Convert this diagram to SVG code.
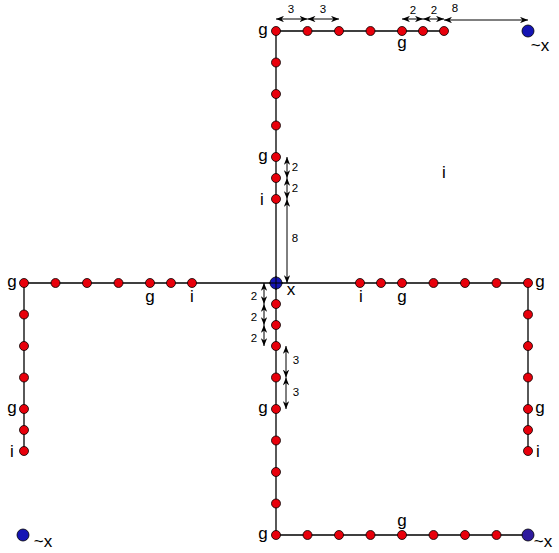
<svg xmlns="http://www.w3.org/2000/svg" width="559" height="553" viewBox="0 0 559 553">
<style>
.r{fill:#e8000b;stroke:#000;stroke-width:0.8}
.b{fill:#1414b4;stroke:#000;stroke-width:0.8}
.p{fill:#2e1a9e;stroke:#000;stroke-width:0.8}
.ln{stroke:#000;stroke-width:1.3;fill:none}
.dim{stroke:#000;stroke-width:1;fill:none;marker-start:url(#ah);marker-end:url(#ah)}
.t{font-family:"Liberation Sans",Arial,sans-serif;font-size:17px;fill:#000}
.n{font-family:"Liberation Sans",Arial,sans-serif;font-size:11.5px;fill:#000}
</style>
<defs>
<marker id="ah" viewBox="0 0 10 8" refX="10" refY="4" markerWidth="8" markerHeight="6.4" markerUnits="userSpaceOnUse" orient="auto-start-reverse">
<path d="M0,0 L10,4 L0,8 L3,4 Z" fill="#000"/>
</marker>
</defs>
<rect width="559" height="553" fill="#fff"/>
<g id="connectors">
<path class="ln" d="M276,283 V31 H444"/>
<path class="ln" d="M276,283 H24 V451"/>
<path class="ln" d="M276,283 H528 V451"/>
<path class="ln" d="M276,283 V535 H528"/>
</g>
<g id="dimensions">
<line class="dim" x1="276" y1="19" x2="307.5" y2="19"/>
<line class="dim" x1="307.5" y1="19" x2="339" y2="19"/>
<line class="dim" x1="402" y1="19" x2="423" y2="19"/>
<line class="dim" x1="423" y1="19" x2="444" y2="19"/>
<line class="dim" x1="444" y1="20" x2="528" y2="20"/>
<text class="n" x="291" y="13" text-anchor="middle">3</text>
<text class="n" x="323" y="13" text-anchor="middle">3</text>
<text class="n" x="413" y="14" text-anchor="middle">2</text>
<text class="n" x="434" y="14" text-anchor="middle">2</text>
<text class="n" x="455" y="12" text-anchor="middle">8</text>
<line class="dim" x1="287" y1="157" x2="287" y2="178"/>
<line class="dim" x1="287" y1="178" x2="287" y2="199"/>
<line class="dim" x1="287" y1="199" x2="287" y2="283"/>
<text class="n" x="295" y="171" text-anchor="middle">2</text>
<text class="n" x="295" y="192" text-anchor="middle">2</text>
<text class="n" x="295" y="242" text-anchor="middle">8</text>
<line class="dim" x1="264" y1="283" x2="264" y2="304"/>
<line class="dim" x1="264" y1="304" x2="264" y2="325"/>
<line class="dim" x1="264" y1="325" x2="264" y2="346"/>
<text class="n" x="254" y="300" text-anchor="middle">2</text>
<text class="n" x="254" y="321" text-anchor="middle">2</text>
<text class="n" x="254" y="342" text-anchor="middle">2</text>
<line class="dim" x1="286" y1="346" x2="286" y2="377.5"/>
<line class="dim" x1="286" y1="377.5" x2="286" y2="409"/>
<text class="n" x="296" y="364" text-anchor="middle">3</text>
<text class="n" x="296" y="396" text-anchor="middle">3</text>
</g>
<g id="free-label"><text class="t" x="444" y="178" text-anchor="middle">i</text></g>
<g id="n-tv0"><circle class="r" cx="276" cy="31" r="4.5"/><text class="t" x="263" y="35" text-anchor="middle">g</text></g>
<g id="n-tv1"><circle class="r" cx="276" cy="62.5" r="4.5"/></g>
<g id="n-tv2"><circle class="r" cx="276" cy="94" r="4.5"/></g>
<g id="n-tv3"><circle class="r" cx="276" cy="125.5" r="4.5"/></g>
<g id="n-tv4"><circle class="r" cx="276" cy="157" r="4.5"/><text class="t" x="263" y="161" text-anchor="middle">g</text></g>
<g id="n-tv5"><circle class="r" cx="276" cy="178" r="4.5"/></g>
<g id="n-tv6"><circle class="r" cx="276" cy="199" r="4.5"/><text class="t" x="262" y="205" text-anchor="middle">i</text></g>
<g id="n-th1"><circle class="r" cx="307.5" cy="31" r="4.5"/></g>
<g id="n-th2"><circle class="r" cx="339" cy="31" r="4.5"/></g>
<g id="n-th3"><circle class="r" cx="370.5" cy="31" r="4.5"/></g>
<g id="n-th4"><circle class="r" cx="402" cy="31" r="4.5"/><text class="t" x="402" y="48" text-anchor="middle">g</text></g>
<g id="n-th5"><circle class="r" cx="423" cy="31" r="4.5"/></g>
<g id="n-th6"><circle class="r" cx="444" cy="31" r="4.5"/></g>
<g id="n-tx"><circle class="b" cx="528" cy="31" r="6"/><text class="t" x="540" y="51" text-anchor="middle">~x</text></g>
<g id="n-center"><circle class="b" cx="276" cy="283" r="6"/><path d="M269,283 H283 M276,276 V290" stroke="#000" stroke-width="1"/><text class="t" x="291" y="295" text-anchor="middle">x</text></g>
<g id="n-lh0"><circle class="r" cx="24" cy="283" r="4.5"/><text class="t" x="12" y="287" text-anchor="middle">g</text></g>
<g id="n-lh1"><circle class="r" cx="55.5" cy="283" r="4.5"/></g>
<g id="n-lh2"><circle class="r" cx="87" cy="283" r="4.5"/></g>
<g id="n-lh3"><circle class="r" cx="118.5" cy="283" r="4.5"/></g>
<g id="n-lh4"><circle class="r" cx="150" cy="283" r="4.5"/><text class="t" x="150" y="302" text-anchor="middle">g</text></g>
<g id="n-lh5"><circle class="r" cx="171" cy="283" r="4.5"/></g>
<g id="n-lh6"><circle class="r" cx="192" cy="283" r="4.5"/><text class="t" x="192" y="302" text-anchor="middle">i</text></g>
<g id="n-lv1"><circle class="r" cx="24" cy="314.5" r="4.5"/></g>
<g id="n-lv2"><circle class="r" cx="24" cy="346" r="4.5"/></g>
<g id="n-lv3"><circle class="r" cx="24" cy="377.5" r="4.5"/></g>
<g id="n-lv4"><circle class="r" cx="24" cy="409" r="4.5"/><text class="t" x="12" y="413" text-anchor="middle">g</text></g>
<g id="n-lv5"><circle class="r" cx="24" cy="430" r="4.5"/></g>
<g id="n-lv6"><circle class="r" cx="24" cy="451" r="4.5"/><text class="t" x="12" y="457" text-anchor="middle">i</text></g>
<g id="n-lx"><circle class="b" cx="23" cy="535" r="6"/><text class="t" x="43" y="547" text-anchor="middle">~x</text></g>
<g id="n-rh1"><circle class="r" cx="360" cy="283" r="4.5"/><text class="t" x="361" y="302" text-anchor="middle">i</text></g>
<g id="n-rh2"><circle class="r" cx="381" cy="283" r="4.5"/></g>
<g id="n-rh3"><circle class="r" cx="402" cy="283" r="4.5"/><text class="t" x="402" y="302" text-anchor="middle">g</text></g>
<g id="n-rh4"><circle class="r" cx="433.5" cy="283" r="4.5"/></g>
<g id="n-rh5"><circle class="r" cx="465" cy="283" r="4.5"/></g>
<g id="n-rh6"><circle class="r" cx="496.5" cy="283" r="4.5"/></g>
<g id="n-rh7"><circle class="r" cx="528" cy="283" r="4.5"/><text class="t" x="540" y="287" text-anchor="middle">g</text></g>
<g id="n-rv1"><circle class="r" cx="528" cy="314.5" r="4.5"/></g>
<g id="n-rv2"><circle class="r" cx="528" cy="346" r="4.5"/></g>
<g id="n-rv3"><circle class="r" cx="528" cy="377.5" r="4.5"/></g>
<g id="n-rv4"><circle class="r" cx="528" cy="409" r="4.5"/><text class="t" x="540" y="413" text-anchor="middle">g</text></g>
<g id="n-rv5"><circle class="r" cx="528" cy="430" r="4.5"/></g>
<g id="n-rv6"><circle class="r" cx="528" cy="451" r="4.5"/><text class="t" x="538" y="457" text-anchor="middle">i</text></g>
<g id="n-bv1"><circle class="r" cx="276" cy="304" r="4.5"/></g>
<g id="n-bv2"><circle class="r" cx="276" cy="325" r="4.5"/></g>
<g id="n-bv3"><circle class="r" cx="276" cy="346" r="4.5"/></g>
<g id="n-bv4"><circle class="r" cx="276" cy="377.5" r="4.5"/></g>
<g id="n-bv5"><circle class="r" cx="276" cy="409" r="4.5"/><text class="t" x="263" y="413" text-anchor="middle">g</text></g>
<g id="n-bv6"><circle class="r" cx="276" cy="440.5" r="4.5"/></g>
<g id="n-bv7"><circle class="r" cx="276" cy="472" r="4.5"/></g>
<g id="n-bv8"><circle class="r" cx="276" cy="503.5" r="4.5"/></g>
<g id="n-bv9"><circle class="r" cx="276" cy="535" r="4.5"/><text class="t" x="263" y="539" text-anchor="middle">g</text></g>
<g id="n-bh1"><circle class="r" cx="307.5" cy="535" r="4.5"/></g>
<g id="n-bh2"><circle class="r" cx="339" cy="535" r="4.5"/></g>
<g id="n-bh3"><circle class="r" cx="370.5" cy="535" r="4.5"/></g>
<g id="n-bh4"><circle class="r" cx="402" cy="535" r="4.5"/><text class="t" x="402" y="526" text-anchor="middle">g</text></g>
<g id="n-bh5"><circle class="r" cx="433.5" cy="535" r="4.5"/></g>
<g id="n-bh6"><circle class="r" cx="465" cy="535" r="4.5"/></g>
<g id="n-bh7"><circle class="r" cx="496.5" cy="535" r="4.5"/></g>
<g id="n-bx"><circle class="p" cx="528" cy="535" r="6"/><text class="t" x="543" y="547" text-anchor="middle">~x</text></g>
</svg>
